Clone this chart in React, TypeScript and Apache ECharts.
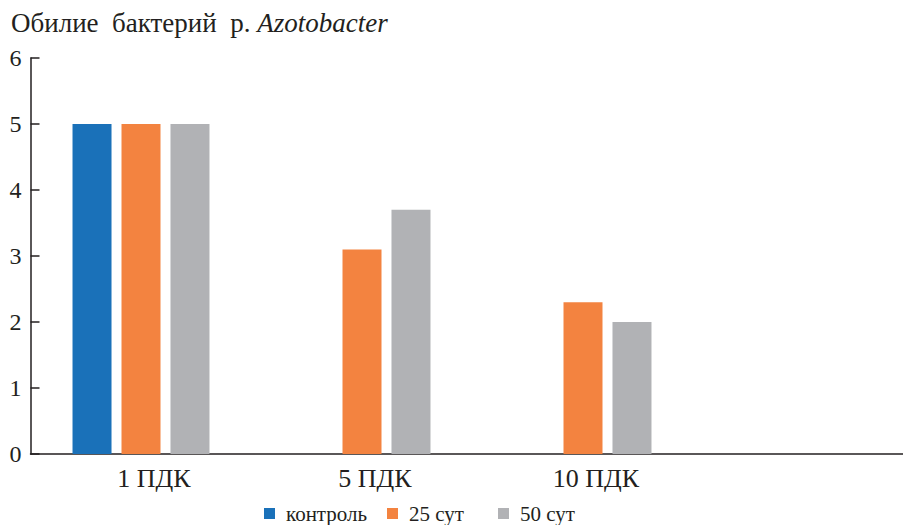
import React, { useEffect, useRef } from "react";
import * as echarts from "echarts";

const categories = ["1 ПДК", "5 ПДК", "10 ПДК", ""];
const seriesNames = ["контроль", "25 сут", "50 сут"];
const controlValues = [5, "-", "-", "-"];
const day25Values = [5, 3.1, 2.3, "-"];
const day50Values = [5, 3.7, 2.0, "-"];
const yMin = 0;
const yMax = 6;
const yInterval = 1;

const colors = ["#1a71b9", "#f38340", "#b1b2b5"];
const serif = "'Liberation Serif', 'Times New Roman', serif";

export default function App() {
  const ref = useRef<HTMLDivElement>(null);
  useEffect(() => {
    if (!ref.current) return;
    const chart = echarts.init(ref.current, undefined, { renderer: "svg" });
    const legendLefts = [264, 387, 498];
    chart.setOption({
      animation: false,
      color: colors,
      textStyle: { fontFamily: serif, color: "#231f20" },
      title: {
        left: 6,
        top: 4,
        text: "{a|Обилие  бактерий  р. }{b|Azotobacter}",
        textStyle: {
          fontWeight: "normal",
          rich: {
            a: { fontFamily: serif, fontSize: 27, fontWeight: "normal", color: "#231f20" },
            b: { fontFamily: serif, fontSize: 27, fontWeight: "normal", fontStyle: "italic", color: "#231f20" },
          },
        },
      },
      legend: seriesNames.map((n, i) => ({
        data: [n],
        left: legendLefts[i],
        top: 503,
        padding: 0,
        icon: "rect",
        itemWidth: 11,
        itemHeight: 11,
        textStyle: { fontFamily: serif, fontSize: 21, lineHeight: 21, color: "#231f20", padding: [0, 0, 0, 6] },
      })),
      grid: { left: 30.5, top: 58, width: 884, height: 396, containLabel: false },
      xAxis: {
        type: "category",
        data: categories,
        axisLine: { lineStyle: { color: "#231f20", width: 1.5 } },
        axisTick: { show: false },
        axisLabel: {
          fontFamily: serif,
          fontSize: 26,
          color: "#231f20",
          margin: 11,
          padding: [0, 0, 0, 26],
        },
      },
      yAxis: {
        type: "value",
        min: yMin,
        max: yMax,
        interval: yInterval,
        splitLine: { show: false },
        axisLine: { show: true, lineStyle: { color: "#231f20", width: 1.5 } },
        axisTick: { show: true, inside: true, length: 9, lineStyle: { color: "#231f20", width: 1.5 } },
        axisLabel: { fontFamily: serif, fontSize: 24, color: "#231f20", margin: 9 },
      },
      series: [
        { name: seriesNames[0], type: "bar", data: controlValues, barWidth: 39, barGap: "25.6%" },
        { name: seriesNames[1], type: "bar", data: day25Values, barWidth: 39, barGap: "25.6%" },
        { name: seriesNames[2], type: "bar", data: day50Values, barWidth: 39, barGap: "25.6%" },
      ],
    });
    return () => chart.dispose();
  }, []);
  return (
    <div style={{ position: "fixed", left: 0, top: 0, width: 903, height: 525, overflow: "hidden", background: "#fff" }}>
      <div ref={ref} style={{ width: 915, height: 525 }} />
    </div>
  );
}
